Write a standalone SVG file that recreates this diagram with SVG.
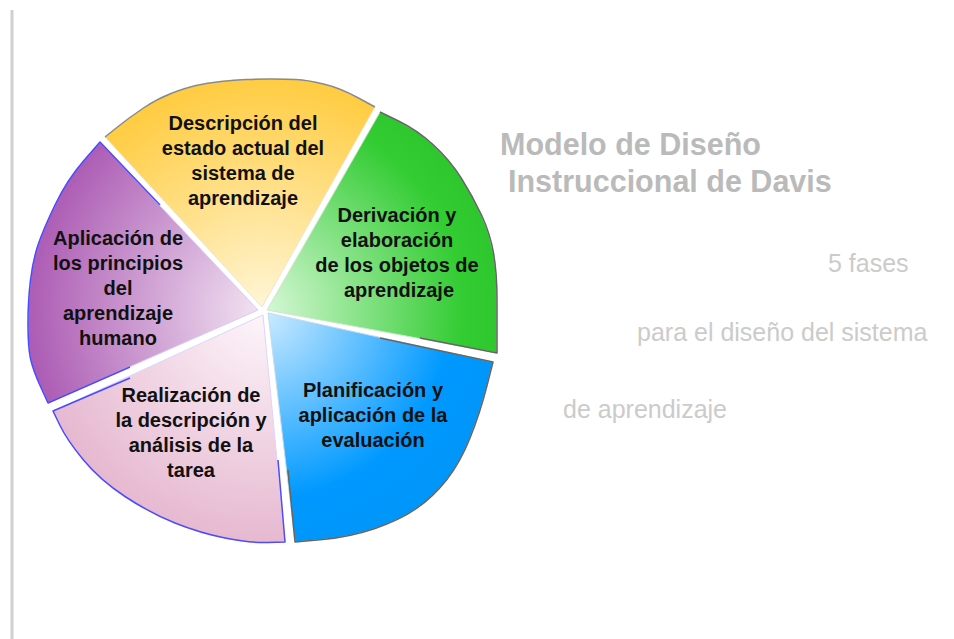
<svg xmlns="http://www.w3.org/2000/svg" width="954" height="639" viewBox="0 0 954 639">
<defs>
<radialGradient id="gY" gradientUnits="userSpaceOnUse" cx="263" cy="310" r="235"><stop offset="0" stop-color="#fff6d8"/><stop offset="1" stop-color="#ffcc40"/></radialGradient>
<radialGradient id="gG" gradientUnits="userSpaceOnUse" cx="263" cy="310" r="235"><stop offset="0" stop-color="#d8f8d8"/><stop offset="0.85" stop-color="#33cc33"/><stop offset="1" stop-color="#2ec82e"/></radialGradient>
<radialGradient id="gB" gradientUnits="userSpaceOnUse" cx="263" cy="310" r="235"><stop offset="0" stop-color="#d0ecff"/><stop offset="0.8" stop-color="#0099ff"/><stop offset="1" stop-color="#0096fa"/></radialGradient>
<radialGradient id="gP" gradientUnits="userSpaceOnUse" cx="263" cy="310" r="235"><stop offset="0" stop-color="#fdf6fb"/><stop offset="1" stop-color="#e6b8d0"/></radialGradient>
<radialGradient id="gV" gradientUnits="userSpaceOnUse" cx="263" cy="310" r="235"><stop offset="0" stop-color="#f2e4f2"/><stop offset="1" stop-color="#ac5cb4"/></radialGradient>
</defs>
<style>
.lbl{font-family:"Liberation Sans",Arial,sans-serif;font-weight:bold;font-size:20px;fill:#111;text-anchor:middle}
.title{font-family:"Liberation Sans",Arial,sans-serif;font-weight:bold;font-size:30.5px;fill:#bababa}
.sub{font-family:"Liberation Sans",Arial,sans-serif;font-size:25px;fill:#cbcbcb}
.edge{fill:none;stroke-width:1.5;stroke-linejoin:round}
</style>
<line x1="12" y1="10" x2="12" y2="639" stroke="#d0d0d0" stroke-width="3"/>
<g id="n-descripcion">
<path d="M262,307 L105,137 L117.5,127 Q130,117 143.5,108 Q157,99 171,93.5 Q185,88 196,85.5 Q207,83 221,81.5 Q235,80 246,79.5 Q257,79 271,79 Q285,79 296,79.5 Q307,80 323.5,84 Q340,88 357.5,97.5 L375,107 Z" fill="url(#gY)" stroke="#ece4cc" stroke-width="1"/>
<path class="edge" d="M105,137 L117.5,127 Q130,117 143.5,108 Q157,99 171,93.5 Q185,88 196,85.5 Q207,83 221,81.5 Q235,80 246,79.5 Q257,79 271,79 Q285,79 296,79.5 Q307,80 323.5,84 Q340,88 357.5,97.5 L375,107" stroke="#8a8a8a"/>
<text class="lbl" x="243" y="130">Descripción del</text>
<text class="lbl" x="243" y="155">estado actual del</text>
<text class="lbl" x="243" y="180">sistema de</text>
<text class="lbl" x="243" y="205">aprendizaje</text>
</g>
<g id="n-derivacion">
<path d="M267,310 L380,112 L398.5,121 Q417,130 433.5,145 Q450,160 461.5,178.5 Q473,197 481.5,215 Q490,233 493.5,253 Q497,273 497,300 L497,353 Z" fill="url(#gG)" stroke="#cce8cc" stroke-width="1"/>
<path class="edge" d="M380,112 L398.5,121 Q417,130 433.5,145 Q450,160 461.5,178.5 Q473,197 481.5,215 Q490,233 493.5,253 Q497,273 497,300 L497,353 L420,338" stroke="#666"/>
<text class="lbl" x="397" y="222">Derivación y</text>
<text class="lbl" x="397" y="247">elaboración</text>
<text class="lbl" x="397" y="272">de los objetos de</text>
<text class="lbl" x="399" y="297">aprendizaje</text>
</g>
<g id="n-planificacion">
<path d="M268,313 L493,362 L486.5,387.5 Q480,413 470,438 Q460,463 446.5,480 Q433,497 416.5,508.5 Q400,520 375,528.5 Q350,537 322.5,539.5 L295,542 Z" fill="url(#gB)" stroke="#c4dcec" stroke-width="1"/>
<path class="edge" d="M380,338 L493,362 L486.5,387.5 Q480,413 470,438 Q460,463 446.5,480 Q433,497 416.5,508.5 Q400,520 375,528.5 Q350,537 322.5,539.5 L295,542 L288,470" stroke="#666"/>
<text class="lbl" x="373" y="397">Planificación y</text>
<text class="lbl" x="373" y="422">aplicación de la</text>
<text class="lbl" x="373" y="447">evaluación</text>
</g>
<g id="n-realizacion">
<path d="M263,315 L285,542 L267.5,542.5 Q250,543 225,538 Q200,533 175,523 Q150,513 125,496.5 Q100,480 83.5,460 Q67,440 60,425.5 L53,411 Z" fill="url(#gP)" stroke="#dcd4ff" stroke-width="1"/>
<path class="edge" d="M278,460 L285,542 L267.5,542.5 Q250,543 225,538 Q200,533 175,523 Q150,513 125,496.5 Q100,480 83.5,460 Q67,440 60,425.5 L53,411 L130,378" stroke="#4a4aff"/>
<text class="lbl" x="191" y="402">Realización de</text>
<text class="lbl" x="191" y="427">la descripción y</text>
<text class="lbl" x="191" y="452">análisis de la</text>
<text class="lbl" x="191" y="477">tarea</text>
</g>
<g id="n-aplicacion">
<path d="M258,310 L48,403 L40.5,386.5 Q33,370 30.5,358.5 Q28,347 28,323.5 Q28,300 30.5,280 Q33,260 38,245 Q43,230 55,205 Q67,180 83.5,161 L100,142 Z" fill="url(#gV)" stroke="#d4ccff" stroke-width="1"/>
<path class="edge" d="M130,367 L48,403 L40.5,386.5 Q33,370 30.5,358.5 Q28,347 28,323.5 Q28,300 30.5,280 Q33,260 38,245 Q43,230 55,205 Q67,180 83.5,161 L100,142 L160,205" stroke="#4a4aff"/>
<text class="lbl" x="118" y="245">Aplicación de</text>
<text class="lbl" x="118" y="270">los principios</text>
<text class="lbl" x="118" y="295">del</text>
<text class="lbl" x="118" y="320">aprendizaje</text>
<text class="lbl" x="118" y="345">humano</text>
</g>
<g id="title">
<text class="title" x="500" y="155">Modelo de Diseño</text>
<text class="title" x="508" y="192">Instruccional de Davis</text>
<text class="sub" x="828" y="272">5 fases</text>
<text class="sub" x="637" y="341">para el diseño del sistema</text>
<text class="sub" x="563" y="418">de aprendizaje</text>
</g>
</svg>
